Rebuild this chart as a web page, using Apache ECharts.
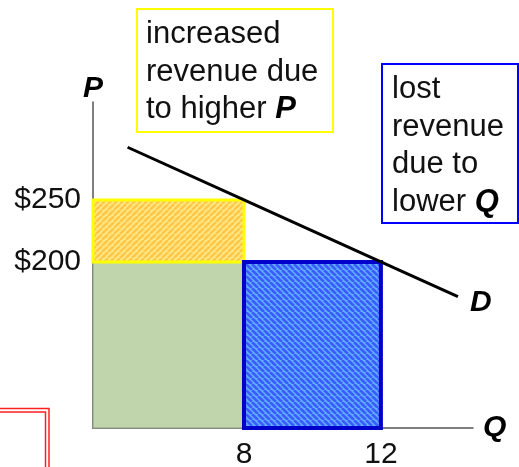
<!DOCTYPE html>
<html><head><meta charset="utf-8">
<script src="https://cdn.jsdelivr.net/npm/echarts@6/dist/echarts.min.js"></script>
<style>html,body{margin:0;padding:0;background:#fff}#c{width:519px;height:467px}</style>
</head><body><div id="c"></div>
<script>
// ---- data ----
const qTicks = [8, 12];
const pTicks = [200, 250];
const qAxisMin = 3.59, qAxisMax = 14.69;
const pAxisMin = 66, pAxisMax = 329;
const demandQ = [4.6, 8, 12, 14.25];
const demandP = [292.5, 250, 200, 172];
const areaNames = ['base', 'gain', 'loss'];
const areaQ0 = [qAxisMin, qAxisMin, 8];
const areaQ1 = [8, 8, 12];
const areaP0 = [pAxisMin, 200, pAxisMin];
const areaP1 = [200, 250, 200];
const gainText = ['increased', 'revenue due', 'to higher '];
const lossText = ['lost', 'revenue', 'due to', 'lower '];

const FONT = 'Arial, "Liberation Sans", sans-serif';

function stripes(bg, fg, p, dir) {
  const c = document.createElement('canvas');
  c.width = c.height = p;
  const g = c.getContext('2d');
  g.fillStyle = bg; g.fillRect(0, 0, p, p);
  g.strokeStyle = fg; g.lineWidth = p * 0.45;
  g.beginPath();
  for (let k = -1; k <= 1; k++) {
    if (dir === '/') { g.moveTo(k * p, p); g.lineTo(k * p + p, 0); }
    else { g.moveTo(k * p, 0); g.lineTo(k * p + p, p); }
  }
  g.stroke();
  return c;
}
const styles = {
  base: { fill: '#c1d5ad', stroke: '#8a9a80', lineWidth: 1 },
  gain: { fill: { image: stripes('#ffea8a', '#ffc84a', 6, '/'), repeat: 'repeat' }, stroke: '#ffff00', lineWidth: 3 },
  loss: { fill: { image: stripes('#62b0ff', '#3a5dff', 6, '\\'), repeat: 'repeat' }, stroke: '#0000cc', lineWidth: 4 }
};

const chart = echarts.init(document.getElementById('c'), null, { renderer: 'canvas' });
chart.setOption({
  animation: false,
  grid: { left: 93, top: 102, width: 380, height: 326, containLabel: false, outerBoundsMode: 'none' },
  xAxis: {
    type: 'value', min: qAxisMin, max: qAxisMax,
    name: 'Q', nameLocation: 'end', nameGap: 10,
    nameTextStyle: { fontFamily: FONT, fontSize: 30, fontWeight: 'bold', fontStyle: 'italic', color: '#000', verticalAlign: 'middle', padding: [12, 0, 0, 0] },
    axisLine: { lineStyle: { color: '#555', width: 1.5 } },
    axisTick: { show: false },
    splitLine: { show: false },
    axisLabel: { customValues: qTicks, fontFamily: FONT, fontSize: 30, color: '#111', margin: 12 }
  },
  yAxis: {
    type: 'value', min: pAxisMin, max: pAxisMax,
    name: 'P', nameLocation: 'end', nameGap: 2,
    nameTextStyle: { fontFamily: FONT, fontSize: 30, fontWeight: 'bold', fontStyle: 'italic', color: '#000', align: 'center', padding: [0, 0, -4, 0] },
    axisLine: { show: true, lineStyle: { color: '#555', width: 1.5 } },
    axisTick: { show: false },
    splitLine: { show: false },
    axisLabel: { customValues: pTicks, formatter: v => '$' + v, fontFamily: FONT, fontSize: 30, color: '#111', margin: 12 }
  },
  series: [
    {
      type: 'custom',
      data: areaNames.map((n, i) => [areaQ0[i], areaQ1[i], areaP0[i], areaP1[i], n]),
      encode: { x: [0, 1], y: [2, 3] },
      z: 1,
      renderItem: function (params, api) {
        const a = api.coord([api.value(0), api.value(3)]);
        const b = api.coord([api.value(1), api.value(2)]);
        const st = styles[areaNames[params.dataIndex]];
        return { type: 'rect', shape: { x: a[0], y: a[1], width: b[0] - a[0], height: b[1] - a[1] }, style: st };
      }
    },
    {
      type: 'line', z: 5,
      data: demandQ.map((q, i) => [q, demandP[i]]),
      showSymbol: false, symbol: 'none',
      lineStyle: { color: '#000', width: 3 },
      endLabel: { show: true, formatter: 'D', fontFamily: FONT, fontSize: 30, fontWeight: 'bold', fontStyle: 'italic', color: '#000', distance: 12, offset: [0, 6] }
    }
  ],
  graphic: [
    { type: 'rect', shape: { x: 137, y: 9, width: 196, height: 123 }, style: { fill: '#fff', stroke: '#ffff00', lineWidth: 2 } },
    { type: 'text', x: 146, y: 16, style: {
      text: gainText.join('\n') + '{b|P}', fontFamily: FONT, fontSize: 31, lineHeight: 37.5, fill: '#111',
      rich: { b: { fontFamily: FONT, fontSize: 31, fontWeight: 'bold', fontStyle: 'italic', lineHeight: 37.5, fill: '#000' } } } },
    { type: 'rect', shape: { x: 382, y: 64, width: 136, height: 159 }, style: { fill: '#fff', stroke: '#0000ff', lineWidth: 2 } },
    { type: 'text', x: 392, y: 71, style: {
      text: lossText.join('\n') + '{b|Q}', fontFamily: FONT, fontSize: 31, lineHeight: 37.5, fill: '#111',
      rich: { b: { fontFamily: FONT, fontSize: 31, fontWeight: 'bold', fontStyle: 'italic', lineHeight: 37.5, fill: '#000' } } } },
    { type: 'polyline', shape: { points: [[0, 408.5], [49, 408.5], [49, 467]] }, style: { fill: null, stroke: '#ff2020', lineWidth: 1.5 } },
    { type: 'polyline', shape: { points: [[0, 412], [45.5, 412], [45.5, 467]] }, style: { fill: null, stroke: '#ff2020', lineWidth: 1.5 } }
  ]
});
</script></body></html>
